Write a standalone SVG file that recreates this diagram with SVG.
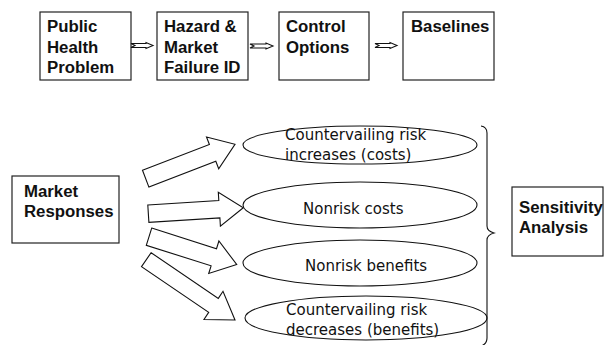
<svg xmlns="http://www.w3.org/2000/svg" width="605" height="345" viewBox="0 0 605 345">
  <style>
    .box { fill: #fff; stroke: #222; stroke-width: 1.2; }
    .oval { fill: #fff; stroke: #111; stroke-width: 1.1; }
    .bold { font-family: "Liberation Sans", Arial, sans-serif; font-weight: bold; font-size: 16.8px; fill: #111; }
    .plain { font-family: "DejaVu Sans", Verdana, sans-serif; font-size: 15px; fill: #111; }
    .arrow { fill: #fff; stroke: #111; stroke-width: 1.1; stroke-linejoin: miter; }
    .brace { fill: none; stroke: #111; stroke-width: 1.1; }
  </style>
  <rect width="605" height="345" fill="#fff"/>

  <!-- process chain -->
  <g id="public-health-problem">
    <rect class="box" x="40" y="12" width="91" height="68"/>
    <text class="bold" x="47" y="32">Public</text>
    <text class="bold" x="47" y="52.5">Health</text>
    <text class="bold" x="47" y="73">Problem</text>
  </g>
  <g id="hazard-market-failure">
    <rect class="box" x="157" y="12" width="91" height="68"/>
    <text class="bold" x="164" y="32">Hazard &amp;</text>
    <text class="bold" x="164" y="52.5">Market</text>
    <text class="bold" x="164" y="73">Failure ID</text>
  </g>
  <g id="control-options">
    <rect class="box" x="279" y="12" width="90" height="68"/>
    <text class="bold" x="286" y="32">Control</text>
    <text class="bold" x="286" y="52.5">Options</text>
  </g>
  <g id="baselines">
    <rect class="box" x="403" y="12" width="91" height="68"/>
    <text class="bold" x="411" y="32">Baselines</text>
  </g>

  <g id="market-responses">
    <rect class="box" x="12" y="176" width="107" height="67"/>
    <text class="bold" x="24" y="197">Market</text>
    <text class="bold" x="24" y="216.5">Responses</text>
  </g>

  <g id="countervailing-increases">
    <ellipse class="oval" cx="360" cy="145" rx="117" ry="19"/>
    <text class="plain" x="285" y="140">Countervailing risk</text>
    <text class="plain" x="285" y="160">increases (costs)</text>
  </g>
  <g id="nonrisk-costs">
    <ellipse class="oval" cx="360" cy="205" rx="117" ry="23"/>
    <text class="plain" x="303" y="214">Nonrisk costs</text>
  </g>
  <g id="nonrisk-benefits">
    <ellipse class="oval" cx="360" cy="263" rx="117" ry="23"/>
    <text class="plain" x="305" y="271">Nonrisk benefits</text>
  </g>
  <g id="countervailing-decreases">
    <ellipse class="oval" cx="366" cy="318" rx="121" ry="22"/>
    <text class="plain" x="286" y="315">Countervailing risk</text>
    <text class="plain" x="286" y="335">decreases (benefits)</text>
  </g>

  <g id="sensitivity-analysis">
    <rect class="box" x="512" y="187" width="91" height="69"/>
    <text class="bold" x="519" y="213">Sensitivity</text>
    <text class="bold" x="519" y="233">Analysis</text>
  </g>

  <g id="connectors">
    <!-- small notched arrows along the chain -->
    <polygon class="arrow" points="131,43.5 146,43.5 146,42.5 153,45.5 146,48.5 146,47.5 131,47.5 135,45.5"/>
    <polygon class="arrow" points="250,44 266,44 266,43 273,46 266,49 266,48 250,48 254,46"/>
    <polygon class="arrow" points="375,43.5 390,43.5 390,42.5 397,45.5 390,48.5 390,47.5 375,47.5 379,45.5"/>

    <!-- block arrows fanning out to the outcomes -->
    <polygon class="arrow" points="142.5,170.3 209.4,144.5 206.5,137 235,144.3 218.7,168.8 215.8,161.3 148.9,187.1"/>
    <polygon class="arrow" points="147.8,205 218.8,200.5 218.3,192.2 243.3,207.7 220.4,226.2 219.9,217.9 148.9,222.4"/>
    <polygon class="arrow" points="151.7,228.1 216.5,248.7 218.9,241 236.7,264.5 208.7,273.5 211.1,265.8 146.3,245.3"/>
    <polygon class="arrow" points="151.1,252.7 218.3,298.4 223,291.3 235,320 204,319.5 208.7,312.4 141.5,266.7"/>

    <!-- brace grouping the outcomes -->
    <path class="brace" d="M 481,126 Q 487,127 487,133 L 487,226 Q 487,231 494,233 Q 487,235 487,240 L 487,338 Q 487,344 481,346"/>
  </g>
</svg>
